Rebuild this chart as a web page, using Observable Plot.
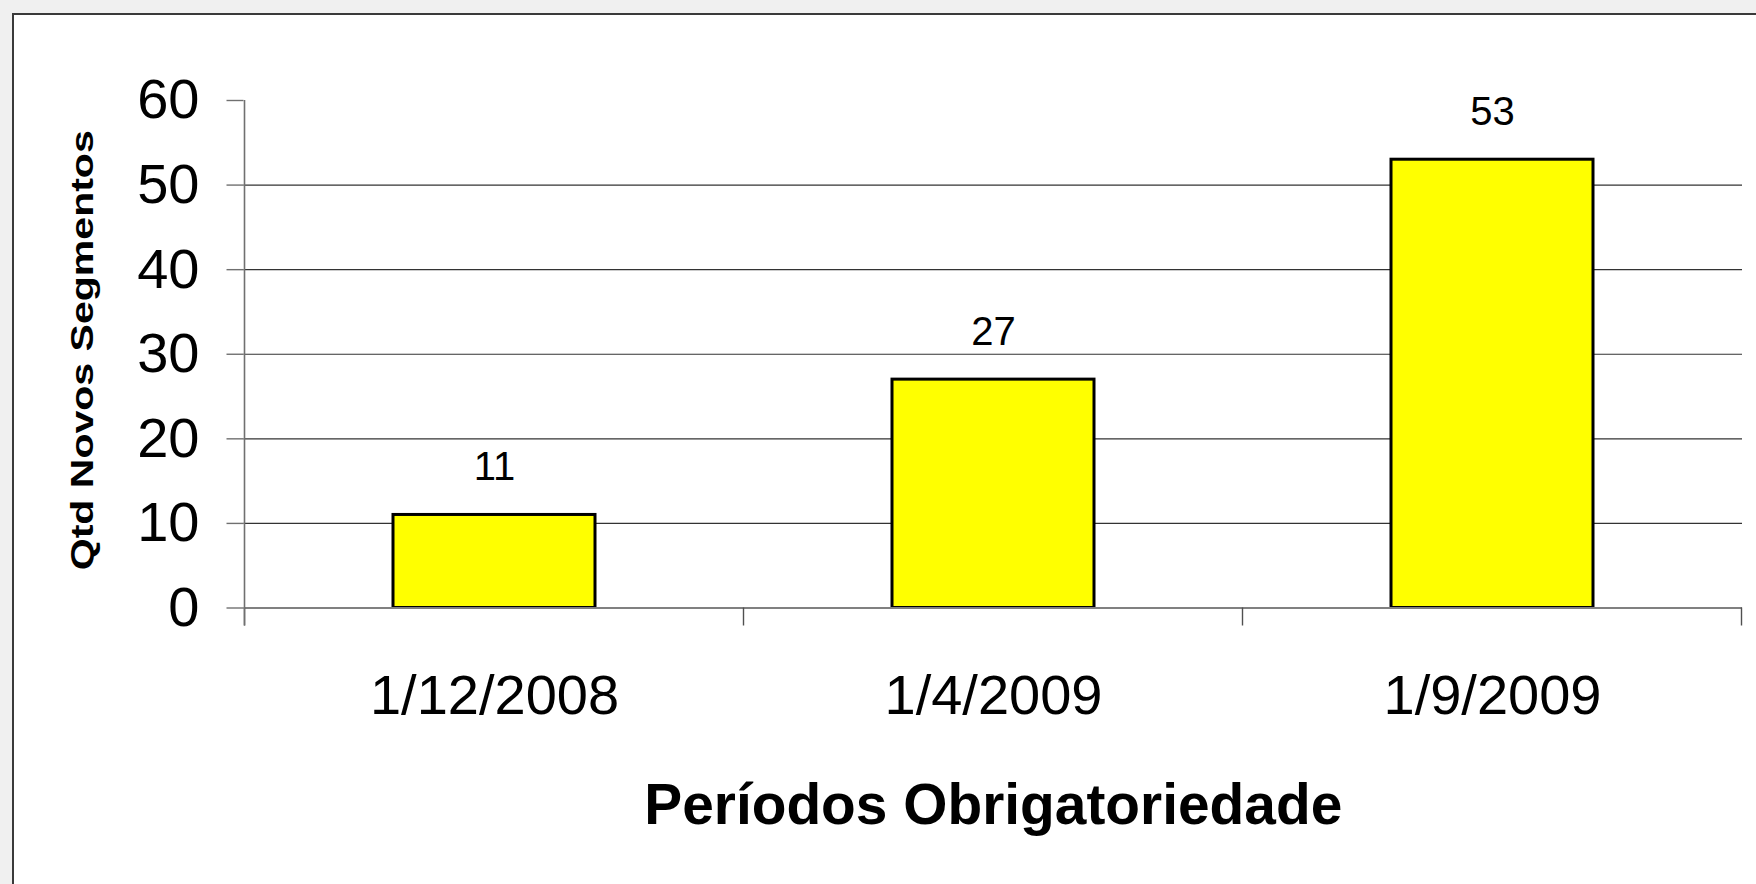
<!DOCTYPE html>
<html><head><meta charset="utf-8">
<script src="https://cdn.jsdelivr.net/npm/d3@7"></script>
<script src="https://cdn.jsdelivr.net/npm/@observablehq/plot@0.6"></script>
<style>
html,body{margin:0;padding:0;background:#f0f0f0;width:1756px;height:884px;overflow:hidden}
#frame{position:absolute;left:12px;top:13px;width:1800px;height:900px;background:#fff;border-left:2px solid #3a3a3a;border-top:2px solid #3a3a3a}
#chart{position:absolute;left:0;top:0}
</style></head><body><div id="frame"></div><div id="chart"></div>
<script>
const categories = ["1/12/2008", "1/4/2009", "1/9/2009"];
const values = [11, 27, 53];
const yTicks = [0, 10, 20, 30, 40, 50, 60];
const gridTicks = [10, 20, 30, 40, 50];
const xTitle = "Períodos Obrigatoriedade";
const yTitle = "Qtd Novos Segmentos";

const data = categories.map((c, i) => ({cat: c, value: values[i]}));

function boundaryTicks(index, scales, vals, dims) {
  const x = scales.x;
  const n = categories.length;
  let xs;
  if (typeof x.bandwidth === "function" && typeof x.step === "function") {
    const bw = x.bandwidth(), step = x.step();
    xs = categories.map(c => x(c) + bw / 2 - step / 2);
    xs.push(x(categories[n - 1]) + bw / 2 + step / 2);
  } else {
    const w = dims.width - dims.marginLeft - dims.marginRight;
    xs = d3.range(n + 1).map(i => dims.marginLeft + i * w / n);
  }
  const y0 = scales.y(0);
  const yTop = scales.y(yTicks[yTicks.length - 1]);
  const g = d3.create("svg:g");
  g.selectAll("line.b").data(xs).join("line")
    .attr("class", "b")
    .attr("x1", d => d).attr("x2", d => d)
    .attr("y1", y0).attr("y2", y0 + 18)
    .attr("stroke", "#505050").attr("stroke-width", 1.4);
  g.append("line")
    .attr("x1", xs[0]).attr("x2", xs[0])
    .attr("y1", yTop).attr("y2", y0 + 18)
    .attr("stroke", "#707070").attr("stroke-width", 1.6);
  return g.node();
}

const plot = Plot.plot({
  width: 1756,
  height: 884,
  marginLeft: 243.5,
  marginRight: 14,
  marginTop: 100,
  marginBottom: 276.5,
  style: {background: "transparent", fontFamily: "'Liberation Sans', Arial, sans-serif", color: "#000"},
  x: {domain: categories, paddingInner: 0.595, paddingOuter: 0.2975, align: 0.5, label: null},
  y: {domain: [0, 60], label: null},
  marks: [
    Plot.ruleY(gridTicks, {stroke: "#333", strokeWidth: 1.1}),
    Plot.axisY(yTicks, {tickSize: 17, tickPadding: 27.5, fontSize: 56, stroke: "#707070", strokeWidth: 1.4, fill: "#000", label: null}),
    Plot.axisX({tickSize: 0, tickPadding: 66.7, fontSize: 56, fill: "#000", label: null}),
    Plot.barY(data, {x: "cat", y: "value", fill: "#ffff00", stroke: "#000", strokeWidth: 3}),
    Plot.ruleY([0], {stroke: "#808080", strokeWidth: 2.2}),
    boundaryTicks,
    Plot.text(data, {x: "cat", y: "value", text: d => String(d.value), dy: -35, lineAnchor: "bottom", fontSize: 40, fill: "#000"}),
    Plot.text([xTitle], {text: d => d, frameAnchor: "bottom", dy: 215.5, lineAnchor: "bottom", fontSize: 58, fontWeight: "bold", fill: "#000"}),
    Plot.text([yTitle], {text: d => d, frameAnchor: "left", rotate: -90, dx: -151.5, dy: -4, lineAnchor: "bottom", textAnchor: "middle", fontSize: 32, fontWeight: "bold", fill: "#000"})
  ]
});

document.getElementById("chart").appendChild(plot);

d3.select(plot).selectAll("text").each(function() {
  const t = this.textContent;
  if (t === yTitle) {
    this.setAttribute("textLength", 440);
    this.setAttribute("lengthAdjust", "spacingAndGlyphs");
  } else if (t === xTitle) {
    this.setAttribute("textLength", 698);
    this.setAttribute("lengthAdjust", "spacingAndGlyphs");
  }
});
</script>
</body></html>
